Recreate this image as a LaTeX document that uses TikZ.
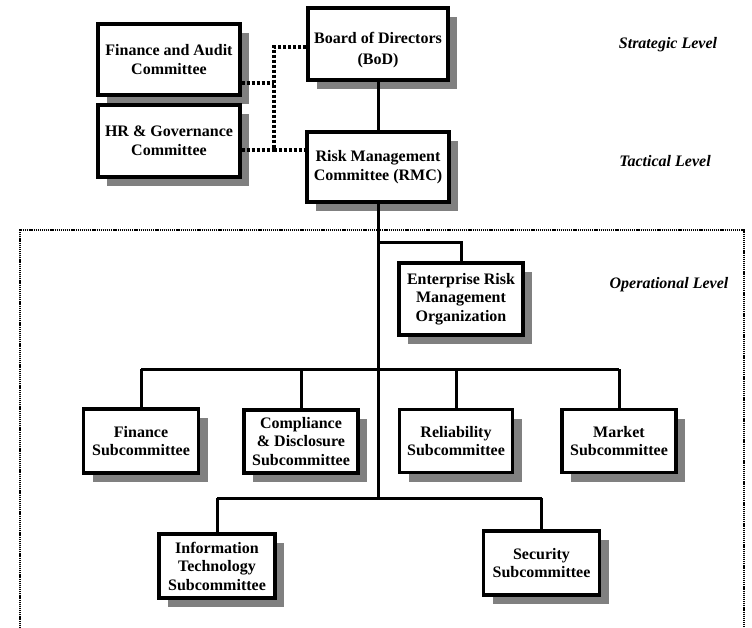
\documentclass[tikz,border=0pt]{standalone}
\usepackage{fontspec}
\setmainfont{Liberation Serif}
\usetikzlibrary{shadows}
\definecolor{shadegray}{HTML}{808080}
\tikzset{
  unit/.style={draw=black, line width=3.2pt, fill=white, align=center,
    inner sep=0pt, font=\fontsize{16}{18.5}\selectfont\bfseries,
    drop shadow={shadow xshift=9pt, shadow yshift=-9pt, fill=shadegray, opacity=1}},
  link/.style={line width=3pt},
  advisory/.style={line width=3.2pt, dash pattern=on 3.2pt off 1.8pt},
  zone/.style={line width=1.6pt, dash pattern=on 1.2pt off 0.9pt},
  tier/.style={font=\fontsize{16}{18}\selectfont\bfseries\itshape},
}
\begin{document}
\begin{tikzpicture}[x=1pt, y=-1pt]
\useasboundingbox (0,0) rectangle (752,628);

% operational zone frame (open at the bottom)
\draw[zone] (20,628) -- (20,230) -- (744,230) -- (744,628);

% governance boxes
\node[unit, minimum width=140pt, minimum height=72pt,
  label={[font=\fontsize{16}{21}\selectfont\bfseries, align=center, yshift=-6pt]center:Board of Directors\\(BoD)}]
  (bod) at (378,44) {};
\node[unit, minimum width=142pt, minimum height=71pt] (fa) at (169,59.5) {Finance and Audit\\Committee};
\node[unit, minimum width=142pt, minimum height=72pt] (hr) at (169,141) {HR \& Governance\\Committee};
\node[unit, minimum width=142pt, minimum height=70pt] (rmc) at (378,167) {Risk Management\\Committee (RMC)};

% operational boxes
\node[unit, minimum width=124pt, minimum height=72pt] (erm) at (461,299) {Enterprise Risk\\Management\\Organization};
\node[unit, minimum width=115pt, minimum height=64pt] (fin) at (141,441) {Finance\\Subcommittee};
\node[unit, minimum width=114pt, minimum height=63pt] (comp) at (301,441.5) {Compliance\\\& Disclosure\\Subcommittee};
\node[unit, minimum width=113pt, minimum height=63pt] (rel) at (456,441) {Reliability\\Subcommittee};
\node[unit, minimum width=114pt, minimum height=63pt] (mkt) at (619,441) {Market\\Subcommittee};
\node[unit, minimum width=116pt, minimum height=64pt] (it) at (217,566) {Information\\Technology\\Subcommittee};
\node[unit, minimum width=116pt, minimum height=64pt] (sec) at (541.5,563) {Security\\Subcommittee};

% level labels
\node[tier] (strategic) at (668,45) {Strategic Level};
\node[tier] (tactical) at (665,161) {Tactical Level};
\node[tier] (operational) at (669,285) {Operational Level};

% advisory (dotted) links between committees
\coordinate (spinetop) at (274,47);
\coordinate (spinebot) at (274,150);
\coordinate (fajoin) at (274,83);
\draw[advisory] (bod.west |- spinetop) -- (spinetop) -- (spinebot) -- (rmc.west |- spinebot);
\draw[advisory] (fa.east |- fajoin) -- (fajoin);
\draw[advisory] (hr.east |- spinebot) -- (spinebot);

% reporting lines
\draw[link] (bod.south) -- (rmc.north);
\coordinate (bar2) at (378,498);
\draw[link] (rmc.south) -- (rmc.south |- 0,500);
\coordinate (ermknee) at (461,243);
\draw[link] (ermknee -| rmc.south) -- (ermknee) -- (erm.north);

\coordinate (bar1) at (378,369);
\draw[link] (fin.north |- bar1) -- (mkt.north |- bar1);
\foreach \b in {fin,comp,rel,mkt}
  \draw[link] (\b.north |- bar1) -- (\b.north);

\draw[link] (it.north |- bar2) -- (sec.north |- bar2);
\draw[link] (it.north |- bar2) -- (it.north);
\draw[link] (sec.north |- bar2) -- (sec.north);
\end{tikzpicture}
\end{document}
